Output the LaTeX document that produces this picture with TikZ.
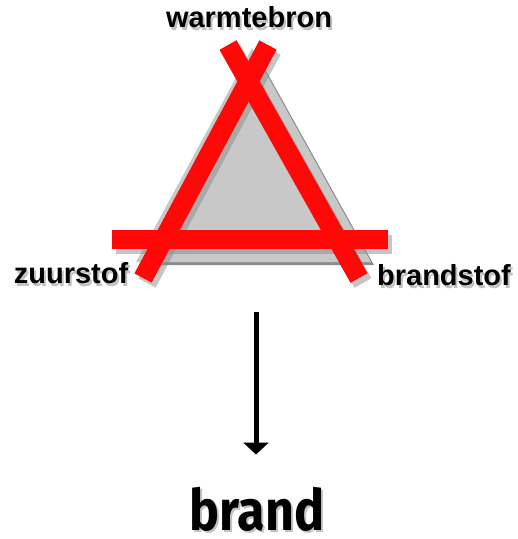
\documentclass[tikz,border=0pt]{standalone}
\usepackage{fontspec}
\setmainfont{Liberation Sans}
\newfontfamily\brandfont{Fira Sans}
\usetikzlibrary{arrows.meta, positioning, calc}
\definecolor{barred}{HTML}{FF0808}
\definecolor{trianglegrey}{HTML}{C8C8C8}
\definecolor{triangleshade}{HTML}{8C8C8C}
\tikzset{
  corner/.style={font=\bfseries\fontsize{29}{29}\selectfont, inner sep=0pt, anchor=base},
  cornershadow/.style={corner, text=black!40, opacity=0.6},
  bar/.style={draw=barred, line width=19.5pt},
  barshadow/.style={draw=black!45, line width=19.5pt, opacity=0.5},
  brandtext/.style={font=\brandfont\bfseries\fontsize{57}{57}\selectfont, inner sep=0pt, anchor=base},
}

\begin{document}
\begin{tikzpicture}[x=1pt, y=-1pt]
  \useasboundingbox (0,0) rectangle (518,539);
  % grey triangle
  \coordinate (apex) at (252,48);
  \coordinate (left) at (136,262);
  \coordinate (right) at (371,262);
  \fill[triangleshade] ($(apex)+(3,3)$) -- ($(left)+(3,3)$) -- ($(right)+(3,3)$) -- cycle;
  \fill[trianglegrey] (apex) -- (left) -- (right) -- cycle;

  % red bars
  \coordinate (leftbar a) at (143,278);
  \coordinate (leftbar b) at (268,45);
  \coordinate (rightbar a) at (359,278);
  \coordinate (rightbar b) at (228,45);
  \coordinate (flat a) at (112,239.5);
  \coordinate (flat b) at (388,239.5);
  \draw[barshadow] ($(leftbar a)+(4,5)$) -- ($(leftbar b)+(4,5)$);
  \draw[barshadow] ($(rightbar a)+(4,5)$) -- ($(rightbar b)+(4,5)$);
  \draw[barshadow] ($(flat a)+(4,5)$) -- ($(flat b)+(4,5)$);
  \draw[bar] (rightbar a) -- (rightbar b);
  \draw[bar] (leftbar a) -- (leftbar b);
  \draw[bar] (flat a) -- (flat b);

  % labels
  \node[cornershadow] (warmtebron shadow) at (251,30) {warmtebron};
  \node[corner] (warmtebron) at (249,27) {warmtebron};
  \node[cornershadow] (zuurstof shadow) at (73,286) {zuurstof};
  \node[corner] (zuurstof) at (71,283) {zuurstof};
  \node[cornershadow] (brandstof shadow) at (446,288) {brandstof};
  \node[corner] (brandstof) at (444,285) {brandstof};

  % result
  \node[brandtext, text=black!40, opacity=0.6] (brand shadow) at (259,532) {\scalebox{0.88}[1]{brand}};
  \node[brandtext] (brand) at (257,530) {\scalebox{0.88}[1]{brand}};
  \coordinate (arrow top) at (256,312);
  \draw[line width=5pt, -{Triangle[length=12pt, width=25pt]}, shorten >=32pt] (arrow top) -- (brand.north -| arrow top);
\end{tikzpicture}
\end{document}
